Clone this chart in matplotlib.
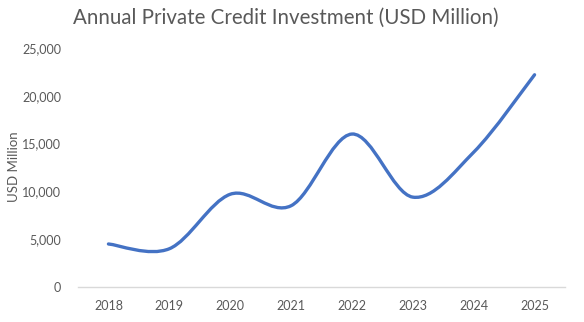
import matplotlib
matplotlib.use("Agg")
import matplotlib.pyplot as plt
from matplotlib.path import Path
from matplotlib.patches import PathPatch
import numpy as np

years = ["2018", "2019", "2020", "2021", "2022", "2023", "2024", "2025"]
investment = [4500, 4000, 9700, 8500, 16000, 9400, 14100, 22200]

plt.rcParams['font.family'] = ['Lato', 'DejaVu Sans']
text_color = '#595959'
line_color = '#4472C4'

fig = plt.figure(figsize=(5.84, 3.22), dpi=100)
ax = fig.add_axes([78 / 584, 1 - 287 / 322, (565 - 78) / 584, (287 - 48) / 322])


# Excel-like smoothed line: cubic bezier segments through every point
def smooth_path(xs, ys):
    xs = np.asarray(xs, float)
    ys = np.asarray(ys, float)
    n = len(xs)
    verts = [(xs[0], ys[0])]
    codes = [Path.MOVETO]
    for i in range(n - 1):
        p0 = i - 1 if i > 0 else i
        p3 = i + 2 if i + 2 < n else i + 1
        c1 = (xs[i] + (xs[i + 1] - xs[p0]) / 6, ys[i] + (ys[i + 1] - ys[p0]) / 6)
        c2 = (xs[i + 1] - (xs[p3] - xs[i]) / 6, ys[i + 1] - (ys[p3] - ys[i]) / 6)
        verts += [c1, c2, (xs[i + 1], ys[i + 1])]
        codes += [Path.CURVE4] * 3
    return Path(verts, codes)


x = np.arange(len(years))
ax.add_patch(PathPatch(smooth_path(x, investment), facecolor='none',
                       edgecolor=line_color, lw=2.4, capstyle='round'))

ax.set_xlim(-0.5, len(years) - 0.5)
ax.set_ylim(0, 25000)
ax.set_xticks(x)
ax.set_xticklabels(years)
ax.set_yticks(range(0, 25001, 5000))
ax.set_yticklabels([f"{v:,}" for v in range(0, 25001, 5000)])

for s in ['top', 'right', 'left']:
    ax.spines[s].set_visible(False)
ax.spines['bottom'].set_color('#D9D9D9')
ax.spines['bottom'].set_linewidth(1.0)
ax.tick_params(axis='both', length=0, colors=text_color, labelsize=9)
ax.tick_params(axis='x', pad=9)
ax.tick_params(axis='y', pad=12)

fig.text(14 / 584, 1 - 167 / 322, "USD Million", rotation=90, ha='center',
         va='center', color=text_color, fontsize=9.5)
fig.text(0.49, 0.945, "Annual Private Credit Investment (USD Million)",
         ha='center', va='center', fontsize=14.8, color=text_color)

fig.savefig("out.png", dpi=100)
